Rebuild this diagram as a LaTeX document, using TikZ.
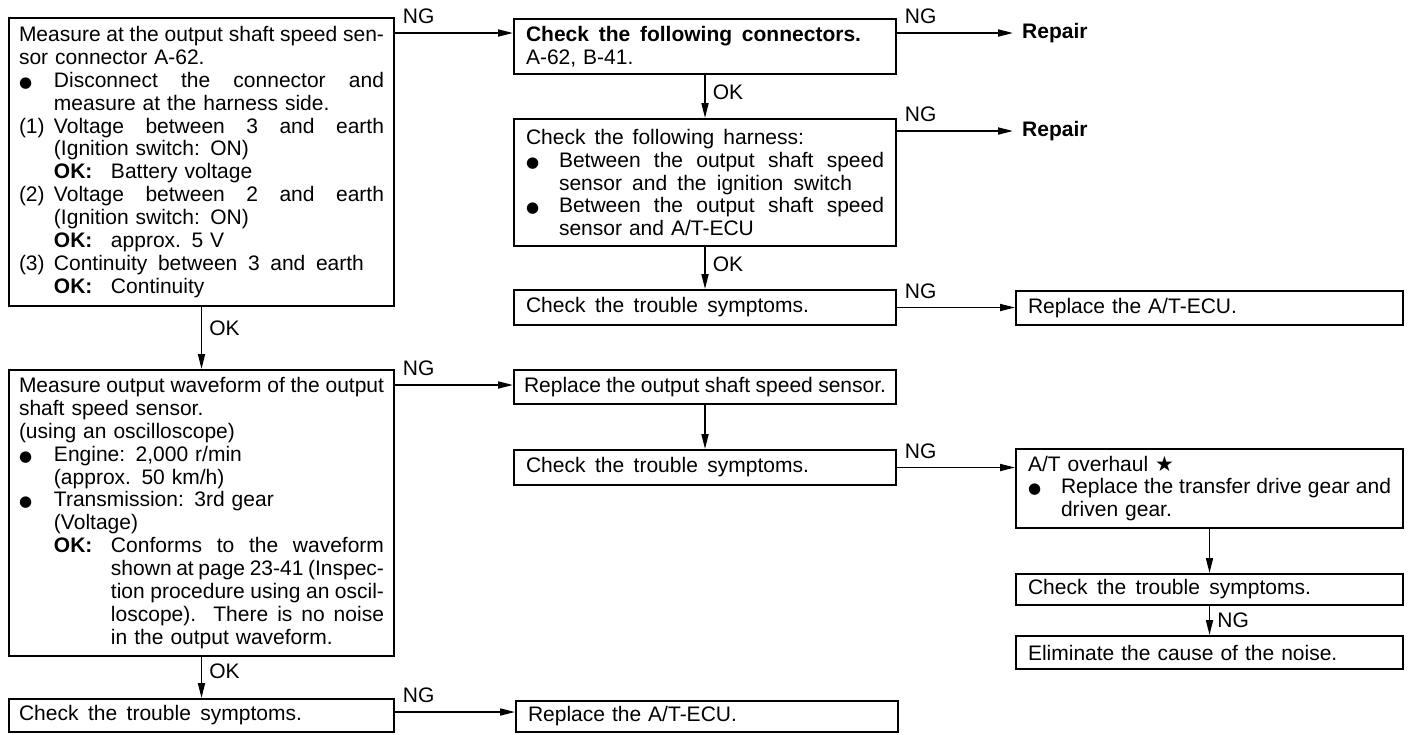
\documentclass[tikz,border=0pt]{standalone}
\usepackage{fontspec}
\setmainfont{Liberation Sans}
\newfontfamily\djv{DejaVu Sans}
\usetikzlibrary{arrows.meta}
\newcommand{\jst}[2]{\makebox[#1pt][s]{\spaceskip=0pt\xspaceskip=0pt #2}}
\newcommand{\hg}[3][35]{\makebox[#1pt][l]{#2}#3}
\newcommand{\bul}{{\djv\fontsize{15}{15}\selectfont ●}}
\newcommand{\okk}{\makebox[57pt][l]{\textbf{OK:}}}
\newcommand{\txtsz}{\fontsize{21}{22.9}\selectfont}
\tikzset{
 box/.style={draw, line width=2pt, anchor=north west, inner xsep=10pt, inner ysep=0pt, align=left, font=\txtsz},
 arr/.style={line width=1.7pt, -{Triangle[length=15pt,width=7pt]}},
 lbl/.style={font=\txtsz, inner sep=0pt},
 ng/.style={lbl, anchor=south west, xshift=7pt, yshift=8pt},
 ok/.style={lbl, anchor=west, xshift=7pt},
 rep/.style={font=\txtsz\bfseries, inner sep=0pt, inner xsep=9pt, anchor=west}
}
\begin{document}
\begin{tikzpicture}[x=1pt,y=-1pt]
\path[fill=white] (0,0) rectangle (1410,734);
\useasboundingbox (0,0) rectangle (1410,734);

% left column
\node[box, minimum width=385pt, minimum height=288pt, text width=365pt] (b1) at (8,17) {%
\jst{365}{Measure at the output shaft speed sen-}\\
sor connector A-62.\\
\hg{\bul}{\jst{330}{Disconnect the connector and}}\\
\hg{}{measure at the harness side.}\\
\hg{(1)}{\jst{330}{Voltage between 3 and earth}}\\
\hg{}{(Ignition switch: ON)}\\
\hg{}{\okk Battery voltage}\\
\hg{(2)}{\jst{330}{Voltage between 2 and earth}}\\
\hg{}{(Ignition switch: ON)}\\
\hg{}{\okk approx. 5 V}\\
\hg{(3)}{\jst{310}{Continuity between 3 and earth}}\\
\hg{}{\okk Continuity}};

\node[box, minimum width=385pt, minimum height=286pt, text width=365pt] (b5) at (8,369) {%
\jst{365}{Measure output waveform of the output}\\
shaft speed sensor.\\
(using an oscilloscope)\\
\hg{\bul}{Engine: 2,000 r/min}\\
\hg{}{(approx. 50 km/h)}\\
\hg{\bul}{Transmission: 3rd gear}\\
\hg{}{(Voltage)}\\
\hg{}{\okk\jst{273}{Conforms to the waveform}}\\
\hg{}{\hspace*{57pt}\jst{273}{shown at page 23-41 (Inspec-}}\\
\hg{}{\hspace*{57pt}\jst{273}{tion procedure using an oscil-}}\\
\hg{}{\hspace*{57pt}\jst{273}{loscope). There is no noise}}\\
\hg{}{\hspace*{57pt}in the output waveform.}};

\node[box, minimum width=385pt, minimum height=33pt, text width=365pt] (b12) at (8,698) {\jst{283}{Check the trouble symptoms.}};

% middle column
\node[box, inner xsep=12pt, minimum width=382pt, minimum height=55pt, text width=358pt] (b2) at (513,18) {%
\textbf{\jst{335}{Check the following connectors.}}\\
A-62, B-41.};

\node[box, inner xsep=12pt, minimum width=382pt, minimum height=127pt, text width=358pt] (b3) at (513,118) {%
\jst{278}{Check the following harness:}\\
\hg[33]{\bul}{\jst{325}{Between the output shaft speed}}\\
\hg[33]{}{\jst{293}{sensor and the ignition switch}}\\
\hg[33]{\bul}{\jst{325}{Between the output shaft speed}}\\
\hg[33]{}{sensor and A/T-ECU}};

\node[box, inner xsep=12pt, minimum width=382pt, minimum height=35pt, text width=358pt] (b4) at (513,289) {\jst{283}{Check the trouble symptoms.}};
\node[box, inner xsep=10pt, minimum width=382pt, minimum height=34pt, text width=362pt] (b6) at (513,369) {\jst{362}{Replace the output shaft speed sensor.}};
\node[box, inner xsep=12pt, minimum width=382pt, minimum height=35pt, text width=358pt] (b7) at (513,449) {\jst{283}{Check the trouble symptoms.}};
\node[box, inner xsep=12pt, minimum width=382pt, minimum height=31pt, text width=358pt] (b13) at (515,700) {Replace the A/T-ECU.};

% right column
\node[rep] (rep1) at (1013,33) {Repair};
\node[rep] (rep2) at (1013,131) {Repair};
\node[box, inner xsep=12pt, minimum width=387pt, minimum height=34pt, text width=363pt] (b8) at (1015,290) {Replace the A/T-ECU.};
\node[box, inner xsep=12pt, minimum width=387pt, minimum height=79pt, text width=363pt] (b9) at (1015,448) {%
A/T overhaul {\djv ★}\\
\hg[33]{\bul}{\jst{330}{Replace the transfer drive gear and}}\\
\hg[33]{}{driven gear.}};
\node[box, inner xsep=12pt, minimum width=387pt, minimum height=31pt, text width=363pt] (b10) at (1015,573) {\jst{283}{Check the trouble symptoms.}};
\node[box, inner xsep=12pt, minimum width=387pt, minimum height=33pt, text width=363pt] (b11) at (1015,635) {Eliminate the cause of the noise.};

% horizontal connectors
\coordinate (s1) at ([yshift=-16pt]b1.north east);
\coordinate (s2) at ([yshift=-15pt]b2.north east);
\coordinate (s3) at ([yshift=-13pt]b3.north east);
\coordinate (s5) at ([yshift=-16pt]b5.north east);
\coordinate (s12) at ([yshift=-14pt]b12.north east);

\draw[arr] (s1) -- (s1 -| b2.west) node[ng, at start]{NG};
\draw[arr] (s2) -- (s2 -| rep1.west) node[ng, at start]{NG};
\draw[arr] (s3) -- (s3 -| rep2.west) node[ng, at start]{NG};
\draw[arr] (b4.east) -- (b4.east -| b8.west) node[ng, at start]{NG};
\draw[arr] (s5) -- (s5 -| b6.west) node[ng, at start]{NG};
\draw[arr] (b7.east) -- (b7.east -| b9.west) node[ng, at start]{NG};
\draw[arr] (s12) -- (s12 -| b13.west) node[ng, at start]{NG};

% vertical connectors
\draw[arr] (b1.south) -- (b5.north) node[ok, pos=.35]{OK};
\draw[arr] (b5.south) -- (b12.north) node[ok, pos=.35]{OK};
\draw[arr] (b2.south) -- (b3.north) node[ok, pos=.4]{OK};
\draw[arr] (b3.south) -- (b4.north) node[ok, pos=.4]{OK};
\draw[arr] (b6.south) -- (b7.north);
\draw[arr] (b9.south) -- (b10.north);
\draw[arr] (b10.south) -- (b11.north) node[ok, pos=.5]{NG};
\end{tikzpicture}
\end{document}
